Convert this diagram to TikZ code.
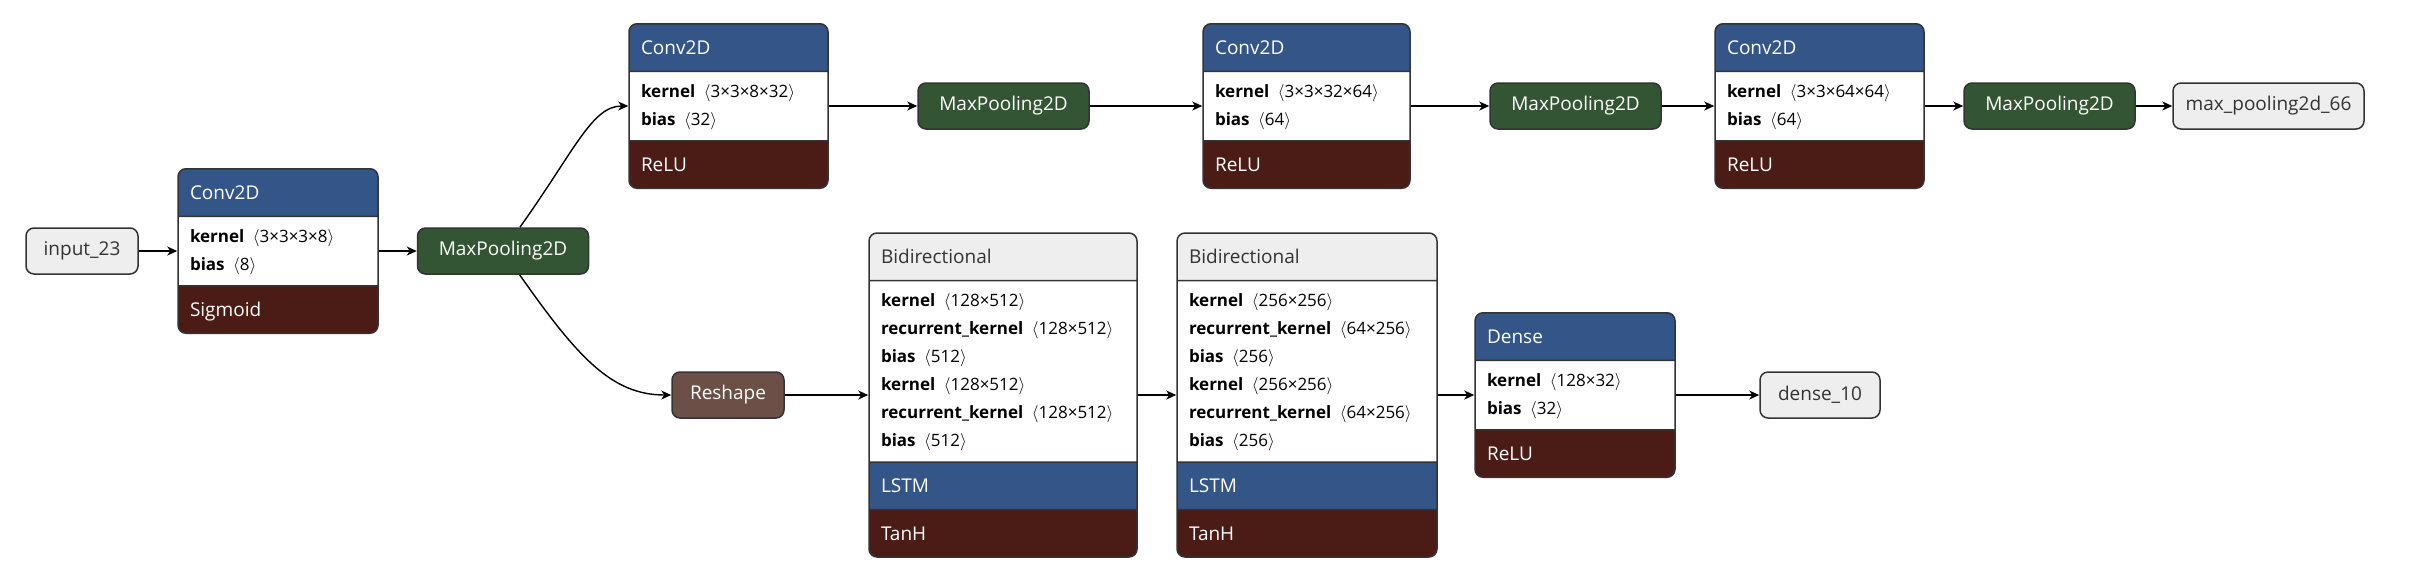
\documentclass[tikz,border=0pt]{standalone}
\usepackage{fontspec}
\setmainfont{Open Sans}
\usetikzlibrary{shapes.multipart, arrows.meta, positioning}

\definecolor{layerblue}{HTML}{335588}
\definecolor{actred}{HTML}{4B1B16}
\definecolor{poolgreen}{HTML}{335533}
\definecolor{shapebrown}{HTML}{6C4F47}
\definecolor{iogray}{HTML}{EEEEEE}
\definecolor{rim}{HTML}{333333}

\newcommand\titlefont{\fontsize{19}{34}\selectfont}
\newcommand\bodyfont{\fontsize{17}{28}\selectfont}
\newcommand\hd[2][white]{{\titlefont\color{#1}\strut#2}}
\newcommand\prm[2]{\strut\textbf{#1}\enspace$\langle$#2$\rangle$}

\tikzset{
  layer/.style={rectangle split, rectangle split parts=3, draw=rim, line width=1.5pt,
    rounded corners=8pt, inner xsep=12pt, inner ysep=6pt, align=left, font=\bodyfont},
  conv/.style={layer, rectangle split part fill={layerblue,white,actred}},
  wrap/.style={layer, rectangle split parts=4,
    rectangle split part fill={iogray,white,layerblue,actred}},
  box/.style={draw=rim, line width=1.5pt, rounded corners=8pt, minimum height=46pt,
    inner xsep=12pt, font=\titlefont},
  pool/.style={box, fill=poolgreen, text=white, minimum width=171pt},
  io/.style={box, fill=iogray, text=rim},
  shp/.style={box, fill=shapebrown, text=white},
  flow/.style={-{Stealth[length=10pt,width=9pt,inset=3pt]}, line width=1.4pt}
}

\begin{document}
\begin{tikzpicture}[x=1pt, y=-1pt]
\useasboundingbox[fill=white] (0,0) rectangle (2412,582);

% convolution branch
\node[io, minimum width=112pt] (inp) at (82,251) {input\_23};
\node[conv, text width=176pt] (c1) at (278,251) {\hd{Conv2D}
  \nodepart{two}\prm{kernel}{3×3×3×8}\\\prm{bias}{8}
  \nodepart{three}\hd{Sigmoid}};
\node[pool] (mp1) at (503,251) {MaxPooling2D};
\node[conv, text width=175pt] (c2) at (728.5,106) {\hd{Conv2D}
  \nodepart{two}\prm{kernel}{3×3×8×32}\\\prm{bias}{32}
  \nodepart{three}\hd{ReLU}};
\node[pool] (mp2) at (1003.5,106) {MaxPooling2D};
\node[conv, text width=183pt] (c3) at (1306.5,106) {\hd{Conv2D}
  \nodepart{two}\prm{kernel}{3×3×32×64}\\\prm{bias}{64}
  \nodepart{three}\hd{ReLU}};
\node[pool] (mp3) at (1575.5,106) {MaxPooling2D};
\node[conv, text width=185pt] (c4) at (1819.5,106) {\hd{Conv2D}
  \nodepart{two}\prm{kernel}{3×3×64×64}\\\prm{bias}{64}
  \nodepart{three}\hd{ReLU}};
\node[pool] (mp4) at (2049.5,106) {MaxPooling2D};
\node[io, minimum width=191pt] (out1) at (2268.5,106) {max\_pooling2d\_66};

% recurrent branch
\node[shp, minimum width=112pt] (rs) at (728,395) {Reshape};
\node[wrap, text width=244pt] (bd1) at (1003,395) {\hd[rim]{Bidirectional}
  \nodepart{two}\prm{kernel}{128×512}\\\prm{recurrent\_kernel}{128×512}\\\prm{bias}{512}\\
  \prm{kernel}{128×512}\\\prm{recurrent\_kernel}{128×512}\\\prm{bias}{512}
  \nodepart{three}\hd{LSTM}
  \nodepart{four}\hd{TanH}};
\node[wrap, text width=236pt] (bd2) at (1307,395) {\hd[rim]{Bidirectional}
  \nodepart{two}\prm{kernel}{256×256}\\\prm{recurrent\_kernel}{64×256}\\\prm{bias}{256}\\
  \prm{kernel}{256×256}\\\prm{recurrent\_kernel}{64×256}\\\prm{bias}{256}
  \nodepart{three}\hd{LSTM}
  \nodepart{four}\hd{TanH}};
\node[conv, text width=176pt] (dn) at (1575,395) {\hd{Dense}
  \nodepart{two}\prm{kernel}{128×32}\\\prm{bias}{32}
  \nodepart{three}\hd{ReLU}};
\node[io, minimum width=120pt] (out2) at (1820,395) {dense\_10};

\draw[flow] (inp) -- (c1);
\draw[flow] (c1) -- (mp1);
\draw[flow] (mp1) .. controls (575,150) and (592,106) .. (c2.west);
\draw[flow] (mp1) .. controls (578,358) and (612,395) .. (rs.west);
\draw[flow] (c2) -- (mp2);
\draw[flow] (mp2) -- (c3);
\draw[flow] (c3) -- (mp3);
\draw[flow] (mp3) -- (c4);
\draw[flow] (c4) -- (mp4);
\draw[flow] (mp4) -- (out1);
\draw[flow] (rs) -- (bd1);
\draw[flow] (bd1) -- (bd2);
\draw[flow] (bd2) -- (dn);
\draw[flow] (dn) -- (out2);
\end{tikzpicture}
\end{document}
